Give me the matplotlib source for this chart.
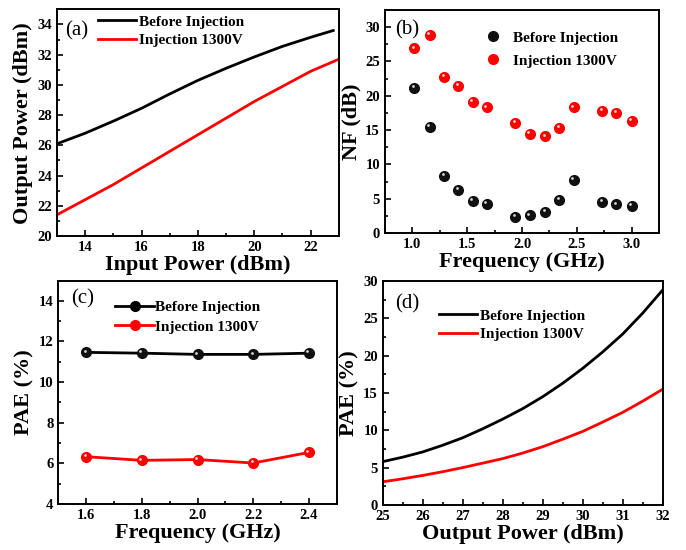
import matplotlib
matplotlib.use('Agg')
import matplotlib.pyplot as plt
from matplotlib.ticker import MultipleLocator
from matplotlib.transforms import offset_copy

plt.rcParams['font.family'] = ['Liberation Serif', 'DejaVu Serif']
plt.rcParams['font.weight'] = 'bold'
plt.rcParams['axes.labelweight'] = 'bold'

RED = '#ff0000'
BLACK = '#000000'
LAB_BEFORE = 'Before Injection'
LAB_INJ = 'Injection 1300V'

# (a) output power vs input power
a_x_before = [13, 14, 15, 16, 17, 18, 19, 20, 21, 22, 22.8]
a_y_before = [26.1, 26.8, 27.6, 28.45, 29.4, 30.3, 31.1, 31.85, 32.55, 33.15, 33.6]
a_x_inj = [13, 14, 15, 16, 17, 18, 19, 20, 21, 22, 23]
a_y_inj = [21.4, 22.4, 23.4, 24.5, 25.6, 26.7, 27.8, 28.9, 29.9, 30.9, 31.7]

# (b) noise figure vs frequency
b_freq = [1.02, 1.16, 1.29, 1.42, 1.55, 1.68, 1.94, 2.07, 2.21, 2.34, 2.47, 2.73, 2.86, 3.0]
b_nf_before = [21.1, 15.5, 8.3, 6.3, 4.7, 4.3, 2.4, 2.6, 3.1, 4.8, 7.8, 4.6, 4.2, 4.0]
b_nf_inj = [26.9, 28.9, 22.7, 21.4, 19.1, 18.3, 16.0, 14.5, 14.1, 15.3, 18.3, 17.8, 17.5, 16.3]

# (c) PAE vs frequency
c_freq = [1.6, 1.8, 2.0, 2.2, 2.4]
c_pae_before = [11.46, 11.42, 11.36, 11.36, 11.42]
c_pae_inj = [6.32, 6.14, 6.18, 6.01, 6.53]

# (d) PAE vs output power
d_pout = [25, 25.5, 26, 26.5, 27, 27.5, 28, 28.5, 29, 29.5, 30, 30.5, 31, 31.5, 32]
d_pae_before = [5.8, 6.4, 7.1, 8.0, 9.0, 10.2, 11.5, 12.9, 14.5, 16.3, 18.3, 20.5, 22.9, 25.7, 28.8]
d_pae_inj = [3.1, 3.5, 3.95, 4.45, 5.0, 5.6, 6.2, 6.95, 7.8, 8.8, 9.85, 11.1, 12.4, 13.9, 15.5]


def style(ax, xmaj, xmin, ymaj, ymin):
    ax.xaxis.set_major_locator(MultipleLocator(xmaj))
    ax.xaxis.set_minor_locator(MultipleLocator(xmin))
    ax.yaxis.set_major_locator(MultipleLocator(ymaj))
    ax.yaxis.set_minor_locator(MultipleLocator(ymin))
    ax.tick_params(which='both', direction='in', top=False, right=False,
                   labelsize=10.5, width=1.2)
    ax.tick_params(which='major', length=4.5)
    ax.tick_params(which='minor', length=2.5)
    for s in ax.spines.values():
        s.set_linewidth(1.4)
    for lab in ax.get_xticklabels() + ax.get_yticklabels():
        lab.set_fontweight('bold')


def balls(ax, x, y, color, ms):
    # shaded sphere look: base dot + small white highlight up-left
    ax.plot(x, y, 'o', color=color, ms=ms, mec=color, zorder=3)
    tr = offset_copy(ax.transData, fig=ax.figure, x=-1.1, y=1.3, units='points')
    ax.plot(x, y, 'o', color='white', ms=ms * 0.28, mew=0, alpha=0.85,
            transform=tr, zorder=4)


def panel_label(ax, txt, x, y):
    ax.text(x, y, txt, transform=ax.transAxes, ha='left', va='center',
            fontsize=15, fontweight='normal')


fig = plt.figure(figsize=(6.86, 5.5), dpi=100)
ax_a = fig.add_axes([0.083, 0.571, 0.411, 0.412])
ax_b = fig.add_axes([0.561, 0.576, 0.400, 0.406])
ax_c = fig.add_axes([0.085, 0.084, 0.406, 0.406])
ax_d = fig.add_axes([0.558, 0.082, 0.408, 0.407])

legfont = {'weight': 'bold', 'size': 11}

# (a)
ax_a.plot(a_x_before, a_y_before, color=BLACK, lw=2, label=LAB_BEFORE)
ax_a.plot(a_x_inj, a_y_inj, color=RED, lw=2, label=LAB_INJ)
ax_a.set_xlim(13, 23)
ax_a.set_ylim(20, 35)
style(ax_a, 2, 1, 2, 1)
ax_a.set_xlabel('Input Power (dBm)', fontsize=16, labelpad=1)
ax_a.set_ylabel('Output Power (dBm)', fontsize=16, labelpad=3)
ax_a.legend(loc='upper left', bbox_to_anchor=(0.145, 0.975), frameon=False,
            prop=legfont, handlelength=2.5, handletextpad=0.2,
            labelspacing=0.3, borderpad=0, borderaxespad=0)
panel_label(ax_a, '(a)', 0.028, 0.905)

# (b)
balls(ax_b, b_freq, b_nf_before, '#101010', 7)
balls(ax_b, b_freq, b_nf_inj, RED, 7)
ax_b.plot([], [], 'o', color='#101010', ms=7, label=LAB_BEFORE)
ax_b.plot([], [], 'o', color=RED, ms=7, label=LAB_INJ)
ax_b.set_xlim(0.75, 3.25)
ax_b.set_ylim(0, 32.5)
style(ax_b, 0.5, 0.25, 5, 2.5)
ax_b.set_xlabel('Frequency (GHz)', fontsize=16, labelpad=1)
ax_b.set_ylabel('NF (dB)', fontsize=16, labelpad=3)
ax_b.legend(loc='upper left', bbox_to_anchor=(0.365, 0.905), frameon=False,
            prop=legfont, handlelength=1.0, handletextpad=0.85,
            labelspacing=0.6, borderpad=0, borderaxespad=0)
panel_label(ax_b, '(b)', 0.036, 0.91)

# (c)
ax_c.plot(c_freq, c_pae_before, '-', color=BLACK, lw=2, zorder=2)
ax_c.plot(c_freq, c_pae_inj, '-', color=RED, lw=2, zorder=2)
balls(ax_c, c_freq, c_pae_before, '#101010', 7)
balls(ax_c, c_freq, c_pae_inj, RED, 7)
ax_c.plot([], [], 'o-', color=BLACK, lw=2, ms=7, label=LAB_BEFORE)
ax_c.plot([], [], 'o-', color=RED, lw=2, ms=7, label=LAB_INJ)
ax_c.set_xlim(1.5, 2.5)
ax_c.set_ylim(4, 15)
style(ax_c, 0.2, 0.1, 2, 1)
ax_c.set_xlabel('Frequency (GHz)', fontsize=16, labelpad=1)
ax_c.set_ylabel('PAE (%)', fontsize=16, labelpad=3)
ax_c.legend(loc='upper left', bbox_to_anchor=(0.205, 0.91), frameon=False,
            prop=legfont, handlelength=2.5, handletextpad=0.1,
            labelspacing=0.37, borderpad=0, borderaxespad=0)
panel_label(ax_c, '(c)', 0.045, 0.92)

# (d)
ax_d.plot(d_pout, d_pae_before, color=BLACK, lw=2, label=LAB_BEFORE)
ax_d.plot(d_pout, d_pae_inj, color=RED, lw=2, label=LAB_INJ)
ax_d.set_xlim(25, 32)
ax_d.set_ylim(0, 30)
style(ax_d, 1, 0.5, 5, 2.5)
ax_d.set_xlabel('Output Power (dBm)', fontsize=16, labelpad=1)
ax_d.set_ylabel('PAE (%)', fontsize=16, labelpad=3)
ax_d.legend(loc='upper left', bbox_to_anchor=(0.2, 0.875), frameon=False,
            prop=legfont, handlelength=2.5, handletextpad=0.2,
            labelspacing=0.32, borderpad=0, borderaxespad=0)
panel_label(ax_d, '(d)', 0.043, 0.896)

fig.savefig('out.png', dpi=100)
